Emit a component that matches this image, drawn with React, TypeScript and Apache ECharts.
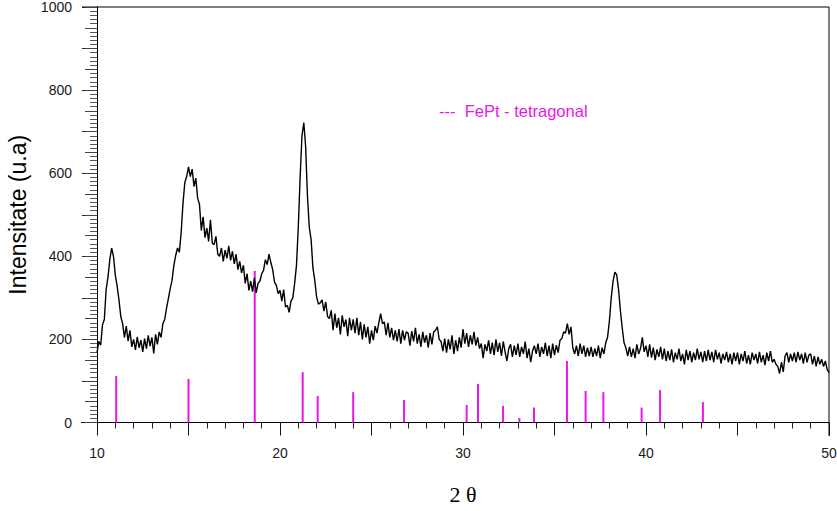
import React, { useEffect, useRef } from "react";
import * as echarts from "echarts";

// 2θ sampling of the measured pattern
const THETA_START = 10;
const THETA_STEP = 0.1;

// Measured intensity (a.u.), one row per degree of 2θ (10.0 … 50.0)
const INTENSITY: number[] = [
  168, 195, 186, 235, 248, 320, 350, 392, 420, 400,
  355, 328, 295, 255, 238, 205, 232, 196, 222, 182,
  200, 175, 206, 180, 198, 170, 202, 178, 210, 184,
  205, 166, 212, 188, 218, 205, 238, 248, 275, 298,
  322, 342, 378, 402, 420, 410, 458, 528, 578, 592,
  615, 592, 610, 568, 588, 540, 525, 462, 495, 445,
  468, 436, 488, 432, 428, 448, 405, 400, 420, 388,
  415, 395, 425, 390, 412, 382, 405, 368, 388, 360,
  378, 335, 358, 318, 340, 315, 348, 312, 335, 340,
  358, 366, 392, 380, 405, 385, 368, 338, 330, 310,
  318, 292, 320, 278, 282, 265, 292, 300, 335, 378,
  470, 590, 690, 722, 665, 545, 470, 440, 372, 342,
  302, 285, 288, 295, 268, 290, 255, 250, 270, 222,
  262, 228, 252, 212, 258, 230, 248, 208, 252, 222,
  248, 215, 252, 210, 242, 200, 236, 205, 230, 190,
  222, 198, 232, 215, 240, 262, 238, 242, 210, 240,
  205, 228, 198, 222, 195, 225, 190, 222, 198, 218,
  215, 185, 220, 195, 228, 190, 212, 182, 218, 192,
  210, 180, 215, 188, 218, 222, 230, 200, 195, 172,
  202, 168, 200, 176, 210, 165, 198, 172, 205, 180,
  225, 190, 215, 182, 210, 188, 218, 185, 205, 178,
  190, 155, 188, 172, 198, 165, 192, 162, 200, 170,
  192, 160, 195, 170, 148, 178, 188, 158, 185, 162,
  190, 158, 182, 165, 195, 155, 178, 145, 172, 185,
  165, 190, 158, 182, 165, 192, 160, 185, 155, 190,
  162, 186, 168, 198, 202, 218, 215, 238, 212, 230,
  180, 165, 185, 160, 190, 165, 185, 158, 180, 160,
  182, 158, 178, 160, 185, 155, 180, 165, 192, 205,
  245, 300, 340, 362, 355, 320, 270, 228, 192, 180,
  160, 182, 158, 178, 155, 188, 165, 178, 205, 170,
  185, 158, 188, 156, 180, 150, 176, 158, 182, 152,
  178, 148, 172, 150, 176, 145, 168, 152, 178, 148,
  165, 140, 175, 150, 172, 145, 168, 150, 178, 152,
  170, 145, 172, 148, 175, 150, 170, 145, 175, 152,
  168, 142, 165, 150, 170, 145, 165, 140, 168, 148,
  168, 140, 165, 148, 172, 142, 162, 140, 168, 150,
  165, 142, 170, 145, 162, 138, 168, 148, 172, 145,
  152, 140, 135, 118, 145, 122, 160, 168, 145, 165,
  148, 168, 145, 170, 150, 165, 142, 168, 145, 162,
  165, 140, 160, 135, 158, 140, 152, 135, 148, 128,
  120,
];

// FePt tetragonal reference reflections
const REF_POSITIONS: number[] = [
  11.05, 15.0, 18.62, 21.24, 22.06, 24.0, 26.78, 30.2, 30.82, 32.19,
  33.08, 33.88, 35.68, 36.7, 37.67, 39.76, 40.77, 43.11,
];
const REF_HEIGHTS: number[] = [
  112, 105, 365, 121, 64, 73, 54, 42, 93, 40,
  11, 36, 148, 76, 73, 36, 78, 49,
];

const X_LABELS = [10, 20, 30, 40, 50];
const Y_LABELS = [0, 200, 400, 600, 800, 1000];
const LEGEND_TEXT = "---  FePt - tetragonal";
const Y_NAME = "Intensitate (u.a)";
const X_NAME = "2 θ";

const MAGENTA = "#e816e8";

export default function App() {
  const ref = useRef<HTMLDivElement>(null);

  useEffect(() => {
    if (!ref.current) return;
    const chart = echarts.init(ref.current, undefined, { renderer: "svg" });

    const lineData = INTENSITY.map((v, i) => [
      +(THETA_START + i * THETA_STEP).toFixed(2),
      v,
    ]);
    const stickData = REF_POSITIONS.map((p, i) => [p, REF_HEIGHTS[i]]);

    const labelFont = "'Liberation Sans', Arial, sans-serif";

    chart.setOption({
      animation: false,
      backgroundColor: "#ffffff",
      grid: {
        left: 97,
        top: 7,
        right: 8,
        bottom: 88.5,
        containLabel: false,
        outerBoundsMode: "none",
      },
      xAxis: {
        type: "value",
        min: 10,
        max: 50,
        interval: 5,
        name: X_NAME,
        nameLocation: "middle",
        nameGap: 61,
        nameTextStyle: {
          fontFamily: "'Liberation Serif', 'DejaVu Serif', serif",
          fontSize: 22,
          color: "#000",
        },
        axisLine: { show: true, onZero: false, lineStyle: { color: "#000", width: 1 } },
        axisTick: { show: true, inside: false, length: 13, lineStyle: { color: "#111", width: 1 } },
        minorTick: { show: true, splitNumber: 5, length: 6, lineStyle: { color: "#222", width: 1 } },
        splitLine: { show: false },
        axisLabel: {
          margin: 23,
          fontSize: 14,
          fontFamily: labelFont,
          color: "#1a1a1a",
          formatter: (v: number) => (X_LABELS.indexOf(v) >= 0 ? String(v) : ""),
        },
      },
      yAxis: [
        {
          type: "value",
          min: 0,
          max: 1000,
          interval: 100,
          name: Y_NAME,
          nameLocation: "middle",
          nameGap: 66,
          nameTextStyle: {
            fontFamily: labelFont,
            fontSize: 23,
            color: "#000",
          },
          axisLine: { show: true, onZero: false, lineStyle: { color: "#000", width: 1 } },
          axisTick: { show: true, inside: false, length: 15, lineStyle: { color: "#222", width: 1 } },
          minorTick: { show: true, splitNumber: 10, length: 7, lineStyle: { color: "#555", width: 1 } },
          splitLine: { show: false },
          axisLabel: {
            margin: 25,
            fontSize: 14,
            fontFamily: labelFont,
            color: "#1a1a1a",
            formatter: (v: number) => (Y_LABELS.indexOf(v) >= 0 ? String(v) : ""),
          },
        },
        {
          type: "value",
          min: 0,
          max: 1000,
          interval: 50,
          position: "left",
          axisLine: { show: false },
          axisTick: { show: true, inside: false, length: 12, lineStyle: { color: "#444", width: 1 } },
          axisLabel: { show: false },
          splitLine: { show: false },
        },
      ],
      series: [
        {
          type: "bar",
          name: "FePt - tetragonal",
          data: stickData,
          barWidth: 2,
          itemStyle: { color: MAGENTA },
          yAxisIndex: 0,
          z: 2,
        },
        {
          type: "line",
          name: "pattern",
          data: lineData,
          showSymbol: false,
          symbol: "none",
          lineStyle: { color: "#000", width: 1.4 },
          yAxisIndex: 0,
          z: 3,
        },
      ],
      graphic: [
        {
          type: "line",
          shape: { x1: 82, y1: 7, x2: 829, y2: 7 },
          style: { stroke: "#000", lineWidth: 1 },
          silent: true,
        },
        {
          type: "line",
          shape: { x1: 829, y1: 7, x2: 829, y2: 436 },
          style: { stroke: "#000", lineWidth: 1 },
          silent: true,
        },
        {
          type: "line",
          shape: { x1: 81, y1: 422.5, x2: 97, y2: 422.5 },
          style: { stroke: "#000", lineWidth: 1 },
          silent: true,
        },
        {
          type: "text",
          left: 439,
          top: 102,
          style: {
            text: LEGEND_TEXT,
            fill: MAGENTA,
            fontSize: 16.5,
            fontFamily: labelFont,
          },
          silent: true,
        },
      ],
    });

    return () => chart.dispose();
  }, []);

  return (
    <div
      ref={ref}
      style={{ position: "absolute", left: 0, top: 0, width: 837, height: 511 }}
    />
  );
}
